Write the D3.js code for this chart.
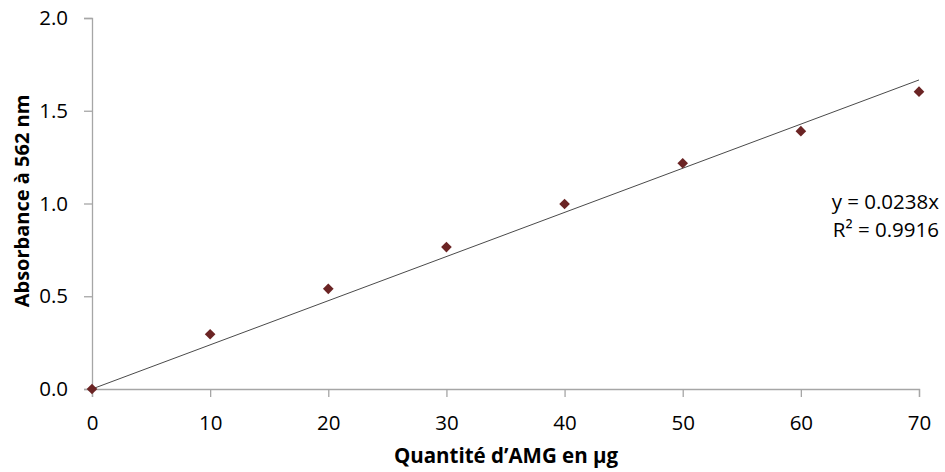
<!DOCTYPE html>
<html><head><meta charset="utf-8">
<script src="https://cdn.jsdelivr.net/npm/d3@7"></script>
<style>body{margin:0;background:#fff}svg{display:block}text{font-family:"Open Sans","Noto Sans",sans-serif;fill:#000}</style>
</head><body><svg id="c" width="945" height="472"></svg>
<script>
const xValues = [0, 10, 20, 30, 40, 50, 60, 70];
const absorbance = [0, 0.295, 0.54, 0.765, 0.997, 1.217, 1.39, 1.603];
const slope = 0.0238;
const xTicks = [0, 10, 20, 30, 40, 50, 60, 70];
const yTicks = [0, 0.5, 1.0, 1.5, 2.0];
const equationLines = ["y = 0.0238x", "R² = 0.9916"];

const svg = d3.select("#c");
const x = d3.scaleLinear().domain([0, 70]).range([92, 919]);
const y = d3.scaleLinear().domain([0, 2]).range([389, 18]);
const axisColor = "#a6a6a6";

const gx = svg.append("g").attr("transform", "translate(0,389)")
  .call(d3.axisBottom(x).tickValues(xTicks).tickSize(8).tickPadding(18).tickFormat(d3.format("d")));
const gy = svg.append("g").attr("transform", "translate(92,0)")
  .call(d3.axisLeft(y).tickValues(yTicks).tickSize(8).tickPadding(16).tickFormat(d3.format(".1f")));
[gx, gy].forEach(g => {
  g.select(".domain").attr("stroke", axisColor).attr("stroke-width", 1.3);
  g.selectAll(".tick line").attr("stroke", axisColor).attr("stroke-width", 1.3);
  g.selectAll(".tick text").style("font-size", "20.5px").attr("fill", "#000");
});
gx.selectAll(".tick text").attr("dy", "0.71em");

// trend line
svg.append("line")
  .attr("x1", x(0)).attr("y1", y(0))
  .attr("x2", x(70)).attr("y2", y(slope * 70))
  .attr("stroke", "#4a4a4a").attr("stroke-width", 1);

// points
const data = xValues.map((v, i) => ({x: v, y: absorbance[i]}));
svg.append("g").selectAll("path").data(data).enter().append("path")
  .attr("d", d3.symbol(d3.symbolDiamond2 || d3.symbolSquare, 72)())
  .attr("transform", d => `translate(${x(d.x)},${y(d.y)}) rotate(${d3.symbolDiamond2 ? 0 : 45})`)
  .attr("fill", "#6b2424");

// equation
svg.append("g").selectAll("text").data(equationLines).enter().append("text")
  .attr("x", 939).attr("y", (d, i) => 209 + i * 28)
  .attr("text-anchor", "end").style("font-size", "20.5px").text(d => d);

// axis titles
svg.append("text").attr("x", 506).attr("y", 463).attr("text-anchor", "middle")
  .style("font-size", "20.5px").style("font-weight", "bold").text("Quantité d’AMG en µg");
svg.append("text").attr("transform", "translate(29,201) rotate(-90)").attr("text-anchor", "middle")
  .style("font-size", "20px").style("font-weight", "bold").text("Absorbance à 562 nm");
</script></body></html>
